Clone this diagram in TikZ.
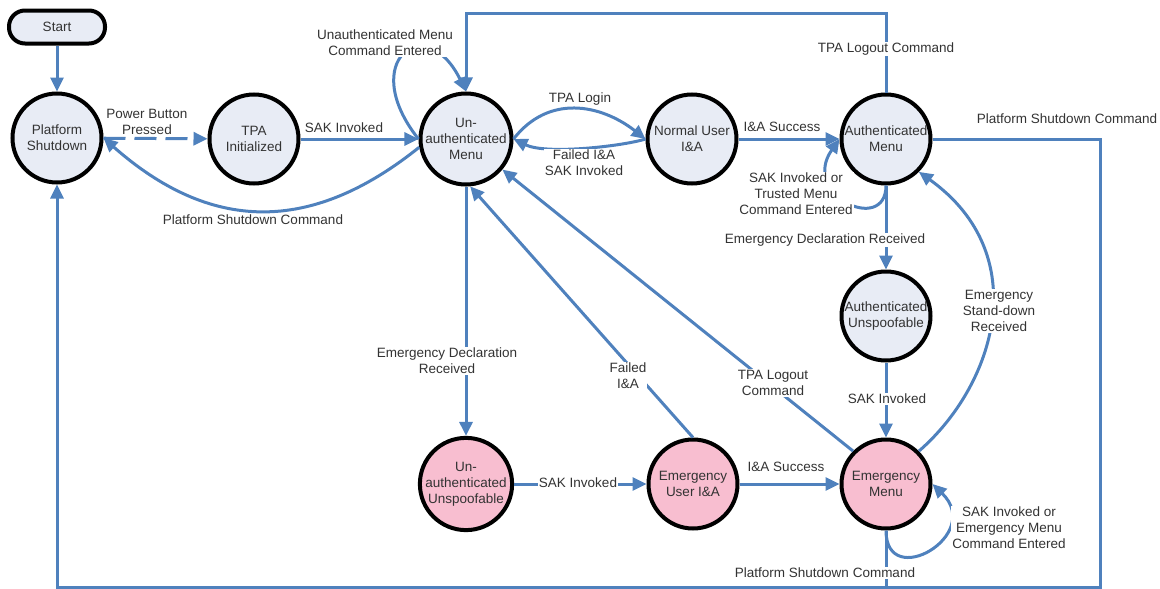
\documentclass[tikz,border=0pt]{standalone}
\usepackage{fontspec}
\setmainfont{Liberation Sans}
\usetikzlibrary{arrows.meta}
\definecolor{flow}{RGB}{79,129,189}
\definecolor{stateblue}{RGB}{232,236,245}
\definecolor{statepink}{RGB}{248,190,208}
\definecolor{labeltext}{RGB}{51,51,51}

\begin{document}
\begin{tikzpicture}[x=1pt,y=-1pt,
  font=\fontsize{13.5}{16}\selectfont,
  state/.style={circle, draw=black, line width=4pt, minimum size=89pt,
    inner sep=0pt, align=center, text=labeltext},
  normal/.style={state, fill=stateblue},
  alert/.style={state, fill=statepink},
  flowline/.style={draw=flow, line width=3pt, -{Triangle[length=14pt,width=13pt]}},
  plainline/.style={draw=flow, line width=3pt},
  lbl/.style={text=labeltext, align=center, inner sep=1pt},
  lblw/.style={lbl, fill=white},
]
\useasboundingbox (0,0) rectangle (1160,589);

% states
\node[draw=black, line width=4pt, fill=stateblue, rounded corners=16pt,
  minimum width=96pt, minimum height=33pt, text=labeltext] (start) at (57,27) {Start};
\node[normal] (ps)  at (57,138)  {Platform\\Shutdown};
\node[normal] (tpa) at (254,139) {TPA\\Initialized};
\node[normal] (um)  at (466,139) {Un-\\authenticated\\Menu};
\node[normal] (nu)  at (692,139) {Normal User\\I\&A};
\node[normal] (am)  at (886,139) {Authenticated\\Menu};
\node[normal] (au)  at (886,316) {Authenticated\\Unspoofable};
\node[alert]  (em)  at (886,484) {Emergency\\Menu};
\node[alert]  (uu)  at (466,484) {Un-\\authenticated\\Unspoofable};
\node[alert]  (eu)  at (693,484) {Emergency\\User I\&A};

\coordinate (rb) at (1100,587);

% transitions
\draw[flowline] (start) -- (ps);
\draw[flowline, dash pattern=on 22pt off 9pt] (ps) -- (tpa);
\draw[flowline] (tpa) -- (um);
\draw[flowline] (um.190) .. controls (310,235) and (210,232) .. (ps.east);
\draw[flowline] (um.west) .. controls +(-62,-78) and +(-40,-82) .. (um.north);
\draw[flowline] (am.north) -- ++(0,-79) -| (um.north);
\draw[flowline] (um.east) .. controls +(35,-45) and +(-45,-35) .. (nu.west);
\draw[flowline] (nu.west) .. controls +(-22,7) and +(33,16) .. (um.east);
\draw[flowline] (nu) -- (am);
\draw[flowline] (am.south) .. controls (886,235) and (800,195) .. (am.west);
\draw[flowline] (am.east) -| (rb) -| (ps.south);
\draw[flowline] (am) -- (au);
\draw[flowline] (au) -- (em);
\draw[flowline] (em.45) .. controls (995,385) and (1035,255) .. (am.-45);
\draw[flowline] (em.south) .. controls (886,592) and (985,535) .. (em.east);
\draw[plainline] (em.south) -- (em.south |- rb);
\draw[flowline] (um) -- (uu);
\draw[flowline] (uu) -- (eu);
\draw[flowline] (eu.north) -- (um.-85);
\draw[flowline] (em.135) -- (um.-40);
\draw[flowline] (eu) -- (em);

% transition labels
\node[lbl]  (l1)  at (147,122) {Power Button\\Pressed};
\node[lbl]  (l2)  at (344,128) {SAK Invoked};
\node[lbl]  (l3)  at (253,220) {Platform Shutdown Command};
\node[lblw] (l4)  at (385,43)  {Unauthenticated Menu\\Command Entered};
\node[lblw] (l5)  at (886,49)  {TPA Logout Command};
\node[lbl]  (l6)  at (580,99)  {TPA Login};
\node[lblw] (l7)  at (584,163) {Failed I\&A\\SAK Invoked};
\node[lbl]  (l8)  at (782,127) {I\&A Success};
\node[lblw] (l9)  at (796,194) {SAK Invoked or\\Trusted Menu\\Command Entered};
\node[lbl]  (l10) at (1067,119) {Platform Shutdown Command};
\node[lblw] (l11) at (825,240) {Emergency Declaration Received};
\node[lblw] (l12) at (999,311) {Emergency\\Stand-down\\Received};
\node[lblw] (l13) at (887,399) {SAK Invoked};
\node[lblw] (l14) at (773,383) {TPA Logout\\Command};
\node[lblw] (l15) at (447,361) {Emergency Declaration\\Received};
\node[lblw] (l16) at (628,376) {Failed\\I\&A};
\node[lblw] (l17) at (578,483) {SAK Invoked};
\node[lbl]  (l18) at (786,467) {I\&A Success};
\node[lblw] (l19) at (1009,528) {SAK Invoked or\\Emergency Menu\\Command Entered};
\node[lblw] (l20) at (825,573) {Platform Shutdown Command};
\end{tikzpicture}
\end{document}
